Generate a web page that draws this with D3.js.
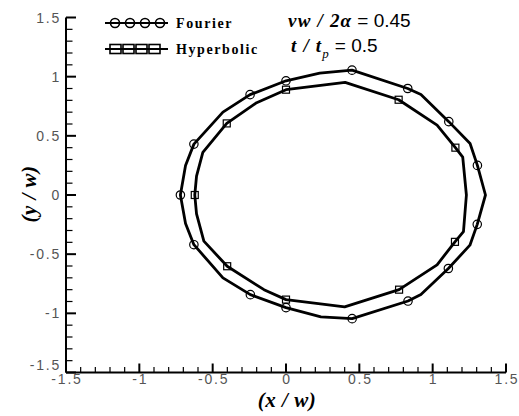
<!DOCTYPE html>
<html>
<head>
<meta charset="utf-8">
<script src="https://cdn.jsdelivr.net/npm/d3@7/dist/d3.min.js"></script>
<style>
  html, body { margin: 0; padding: 0; background: #fff; }
  svg { display: block; }
</style>
</head>
<body>
<svg id="chart" width="519" height="416"></svg>
<script>
// Fourier front outline (closed), vertices in (x/w, y/w); mark = 1 draws a circle symbol
const fourierX = [1.36, 1.305, 1.255, 1.11, 0.92, 0.83, 0.45, 0.23, 0, -0.245, -0.43, -0.628, -0.685, -0.72,
                  -0.685, -0.628, -0.43, -0.243, 0, 0.238, 0.451, 0.832, 0.92, 1.107, 1.254, 1.304];
const fourierY = [0, 0.25, 0.435, 0.62, 0.85, 0.90, 1.055, 1.03, 0.965, 0.848, 0.70, 0.43, 0.25, 0,
                  -0.24, -0.42, -0.70, -0.842, -0.952, -1.03, -1.045, -0.896, -0.84, -0.621, -0.424, -0.248];
const fourierMark = [0, 1, 0, 1, 0, 1, 1, 0, 1, 1, 0, 1, 0, 1,
                     0, 1, 0, 1, 1, 0, 1, 1, 0, 1, 0, 1];

// Hyperbolic front outline (closed); mark = 1 draws a square symbol
const hyperX = [1.23, 1.205, 1.155, 1.03, 0.768, 0.403, 0, -0.2, -0.404, -0.567, -0.61, -0.622,
                -0.61, -0.56, -0.401, -0.15, 0, 0.40, 0.771, 1.03, 1.152, 1.21];
const hyperY = [0, 0.32, 0.40, 0.59, 0.805, 0.952, 0.89, 0.78, 0.605, 0.36, 0.16, 0,
                -0.16, -0.39, -0.602, -0.80, -0.884, -0.946, -0.80, -0.59, -0.396, -0.31];
const hyperMark = [0, 0, 1, 0, 1, 0, 1, 0, 1, 0, 0, 1,
                   0, 0, 1, 0, 1, 0, 1, 0, 1, 0];

const xMajor = [-1.5, -1, -0.5, 0, 0.5, 1, 1.5];
const yMajor = [-1.5, -1, -0.5, 0, 0.5, 1, 1.5];
const xTickLabels = ["-1.5", "-1", "-0.5", "0", "0.5", "1", "1.5"];
const yTickLabels = ["-1.5", "-1", "-0.5", "0", "0.5", "1", "1.5"];
const legendNames = ["Fourier", "Hyperbolic"];

const svg = d3.select("#chart");
const x = d3.scaleLinear().domain([-1.5, 1.5]).range([66, 506]);
const y = d3.scaleLinear().domain([-1.5, 1.5]).range([372.5, 17.5]);

const minorTicks = d3.range(-15, 16).map(d => d / 10).filter(d => Math.abs(d * 2 - Math.round(d * 2)) > 1e-6);

const tickFont = "Liberation Sans, Arial, sans-serif";
const serif = "Liberation Serif, Times New Roman, serif";

// axes: only left and bottom, ticks pointing inward
const gx = svg.append("g").attr("transform", `translate(0,${y(-1.5)})`);
gx.append("line").attr("x1", x(-1.5)).attr("x2", x(1.5)).attr("stroke", "#000").attr("stroke-width", 2);
gx.selectAll(".maj").data(xMajor).join("line")
  .attr("x1", d => x(d)).attr("x2", d => x(d)).attr("y1", 0).attr("y2", -9)
  .attr("stroke", "#000").attr("stroke-width", 2);
gx.selectAll(".min").data(minorTicks).join("line")
  .attr("x1", d => x(d)).attr("x2", d => x(d)).attr("y1", 0).attr("y2", -5.5)
  .attr("stroke", "#000").attr("stroke-width", 1.2);
gx.selectAll("text").data(xMajor).join("text")
  .attr("x", d => x(d) + 1).attr("y", 11)
  .attr("text-anchor", "middle")
  .attr("font-family", tickFont)
  .attr("font-size", 14).attr("letter-spacing", 1.8).attr("fill", "#555")
  .text((d, i) => xTickLabels[i]);

const gy = svg.append("g").attr("transform", `translate(${x(-1.5)},0)`);
gy.append("line").attr("y1", y(-1.5)).attr("y2", y(1.5)).attr("stroke", "#000").attr("stroke-width", 2);
gy.selectAll(".maj").data(yMajor).join("line")
  .attr("y1", d => y(d)).attr("y2", d => y(d)).attr("x1", 0).attr("x2", 10)
  .attr("stroke", "#000").attr("stroke-width", 2);
gy.selectAll(".min").data(minorTicks).join("line")
  .attr("y1", d => y(d)).attr("y2", d => y(d)).attr("x1", 0).attr("x2", 6.5)
  .attr("stroke", "#000").attr("stroke-width", 1.2);
gy.selectAll("text").data(yMajor).join("text")
  .attr("x", -5).attr("y", d => y(d) + (d === -1.5 ? -3 : 5))
  .attr("text-anchor", "end")
  .attr("font-family", tickFont)
  .attr("font-size", 14).attr("letter-spacing", 1.8).attr("fill", "#555")
  .text((d, i) => yTickLabels[i]);

// axis titles
svg.append("text").attr("x", 287).attr("y", 407).attr("text-anchor", "middle")
  .attr("font-family", serif)
  .attr("font-size", 21).attr("font-weight", "bold").attr("font-style", "italic")
  .attr("letter-spacing", 0.5)
  .text("(x / w)");
svg.append("text").attr("transform", "translate(36,194) rotate(-90)").attr("text-anchor", "middle")
  .attr("font-family", serif)
  .attr("font-size", 21).attr("font-weight", "bold").attr("font-style", "italic")
  .attr("letter-spacing", 0.5)
  .text("(y / w)");

// outlines
const line = d3.line().x(d => x(d[0])).y(d => y(d[1])).curve(d3.curveLinearClosed);
const fourierPts = fourierX.map((v, i) => [v, fourierY[i], fourierMark[i]]);
const hyperPts = hyperX.map((v, i) => [v, hyperY[i], hyperMark[i]]);

svg.append("path").attr("d", line(fourierPts)).attr("fill", "none")
  .attr("stroke", "#000").attr("stroke-width", 2.8).attr("stroke-linejoin", "round");
svg.append("path").attr("d", line(hyperPts)).attr("fill", "none")
  .attr("stroke", "#000").attr("stroke-width", 2.8).attr("stroke-linejoin", "round");

svg.selectAll(".fm").data(fourierPts.filter(d => d[2])).join("circle")
  .attr("cx", d => x(d[0])).attr("cy", d => y(d[1])).attr("r", 4.2)
  .attr("fill", "none").attr("stroke", "#000").attr("stroke-width", 1.2);
svg.selectAll(".hm").data(hyperPts.filter(d => d[2])).join("rect")
  .attr("x", d => x(d[0]) - 3.5).attr("y", d => y(d[1]) - 3.5).attr("width", 7).attr("height", 7)
  .attr("fill", "none").attr("stroke", "#000").attr("stroke-width", 1.2);

// legend
const legend = svg.append("g");
const legRows = [23, 49];
legendNames.forEach((name, i) => {
  const ly = legRows[i];
  legend.append("line").attr("x1", 105).attr("x2", 168).attr("y1", ly).attr("y2", ly)
    .attr("stroke", "#000").attr("stroke-width", 2.2);
  const sx = i === 0 ? [115, 130, 145, 160] : [115.5, 128.5, 141.5, 154.5];
  sx.forEach(cx => {
    if (i === 0) {
      legend.append("circle").attr("cx", cx).attr("cy", ly).attr("r", 4.5)
        .attr("fill", "none").attr("stroke", "#000").attr("stroke-width", 1.6);
    } else {
      legend.append("rect").attr("x", cx - 5.5).attr("y", ly - 4.5).attr("width", 11).attr("height", 9)
        .attr("fill", "none").attr("stroke", "#000").attr("stroke-width", 1.6);
    }
  });
  legend.append("text").attr("x", 176).attr("y", ly + 5)
    .attr("font-family", serif)
    .attr("font-size", 14).attr("font-weight", "bold").attr("letter-spacing", 1.6)
    .text(name);
});

// parameter annotations
const a1 = svg.append("text").attr("x", 288).attr("y", 27).attr("font-size", 19);
a1.append("tspan").attr("font-family", serif)
  .attr("font-weight", "bold").attr("font-style", "italic").attr("letter-spacing", 1.2)
  .text("vw / 2α");
a1.append("tspan").attr("font-family", tickFont)
  .attr("dx", 5).text("= 0.45");

const a2 = svg.append("text").attr("x", 291).attr("y", 52).attr("font-size", 19);
a2.append("tspan").attr("font-family", serif)
  .attr("font-weight", "bold").attr("font-style", "italic").attr("letter-spacing", 1.2)
  .text("t / t");
a2.append("tspan").attr("font-family", serif)
  .attr("font-style", "italic").attr("font-size", 13).attr("dy", 6).text("p");
a2.append("tspan").attr("font-family", tickFont)
  .attr("dx", 6).attr("dy", -6).text("= 0.5");
</script>
</body>
</html>
